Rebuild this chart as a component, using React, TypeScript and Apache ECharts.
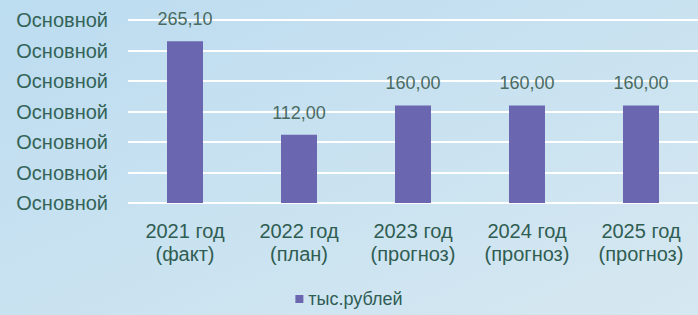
import React, { useEffect, useRef } from "react";
import * as echarts from "echarts";

const categories = [
  "2021 год\n(факт)",
  "2022 год\n(план)",
  "2023 год\n(прогноз)",
  "2024 год\n(прогноз)",
  "2025 год\n(прогноз)",
];
const values = [265.1, 112.0, 160.0, 160.0, 160.0];
const seriesName = "тыс.рублей";
const yTickLabel = "Основной";

export default function App() {
  const ref = useRef<HTMLDivElement>(null);
  useEffect(() => {
    if (!ref.current) return;
    const chart = echarts.init(ref.current, null, { renderer: "svg" });
    chart.setOption({
      animation: false,
      backgroundColor: {
        type: "linear",
        x: 0,
        y: 0,
        x2: 1,
        y2: 1,
        colorStops: [
          { offset: 0, color: "#bcdcf0" },
          { offset: 1, color: "#d6e8f1" },
        ],
      },
      textStyle: { fontFamily: "Liberation Sans, Arial, sans-serif" },
      grid: { left: 128, right: 0, top: 20, bottom: 112, containLabel: false },
      legend: {
        bottom: 2,
        left: "center",
        itemWidth: 8,
        itemHeight: 8,
        itemGap: 4,
        icon: "rect",
        textStyle: { color: "#2f5d55", fontSize: 18 },
        data: [seriesName],
      },
      xAxis: {
        type: "category",
        data: categories,
        axisLine: { show: false },
        axisTick: { show: false },
        axisLabel: {
          color: "#2f5d52",
          fontSize: 20,
          lineHeight: 23,
          margin: 16,
        },
      },
      yAxis: {
        type: "value",
        min: 0,
        max: 300,
        interval: 50,
        axisLine: { show: false },
        axisTick: { show: false },
        splitLine: { lineStyle: { color: "#ffffff", width: 2 } },
        axisLabel: {
          color: "#336357",
          fontSize: 20,
          margin: 20,
          formatter: () => yTickLabel,
        },
      },
      series: [
        {
          name: seriesName,
          type: "bar",
          data: values,
          barWidth: 36,
          itemStyle: { color: "#6a66af" },
          label: {
            show: true,
            position: "top",
            distance: 13,
            color: "#4a6b62",
            fontSize: 18,
            formatter: (p: any) => p.value.toFixed(2).replace(".", ","),
          },
        },
      ],
    });
    return () => chart.dispose();
  }, []);
  return (
    <div
      ref={ref}
      style={{ position: "fixed", left: 0, top: 0, width: 698, height: 315 }}
    />
  );
}
